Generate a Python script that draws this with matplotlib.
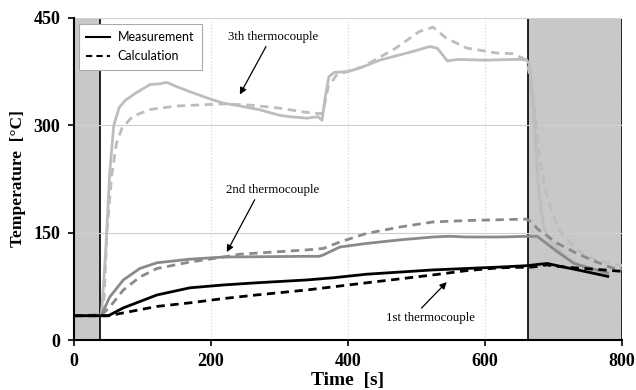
import matplotlib
matplotlib.use('Agg')
import matplotlib.pyplot as plt
import matplotlib.patches as mpatches
from matplotlib.lines import Line2D

# heating phases shaded in the plot (s)
shade_left = (0, 38)
shade_right = (662, 800)

# 3rd thermocouple
t3_meas = [0, 40, 46, 52, 58, 66, 75, 90, 111, 125, 135, 150, 169, 195, 218, 242, 270, 300, 315, 340,
           356, 362, 366, 372, 380, 400, 420, 446, 470, 494, 519, 530, 545, 560, 600, 640, 660,
           665, 670, 674, 677, 682, 687, 696, 706, 723, 752, 781]
T3_meas = [34, 35, 120, 233, 300, 325, 335, 345, 357, 358, 360, 354, 347, 338, 331, 327, 322, 314, 312, 310,
           312, 307, 335, 368, 374, 375, 381, 391, 397, 403, 410, 408, 390, 392, 391, 392, 392,
           385, 330, 270, 224, 180, 154, 137, 128, 112, 98, 90]
t3_calc = [0, 40, 44, 48, 55, 62, 70, 85, 110, 150, 220, 260, 300, 340, 362, 366, 371, 383, 398, 422,
           446, 470, 504, 524, 543, 573, 617, 640, 655, 662, 670, 680, 689, 699, 708, 730, 750, 774, 800]
T3_calc = [34, 35, 60, 150, 230, 275, 296, 312, 322, 327, 330, 328, 324, 318, 316, 330, 354, 370, 375, 382,
           395, 408, 431, 437, 422, 408, 401, 400, 394, 385, 345, 251, 205, 177, 154, 130, 116, 109, 104]

# 2nd thermocouple
t2_meas = [0, 40, 52, 72, 96, 121, 169, 218, 340, 358, 364, 388, 427, 476, 524, 548, 573, 620, 665,
           676, 687, 706, 730, 755, 779]
T2_meas = [34, 35, 60, 84, 100, 108, 113, 116, 117, 117, 119, 130, 135, 140, 144, 145, 144, 144, 145,
           145, 137, 123, 107, 100, 94]
t2_calc = [0, 40, 52, 72, 96, 121, 169, 218, 242, 340, 364, 388, 427, 476, 524, 573, 660, 668, 677,
           706, 730, 755, 785, 800]
T2_calc = [34, 35, 46, 70, 88, 100, 109, 116, 120, 126, 128, 137, 149, 158, 165, 167, 169, 165, 155,
           135, 123, 112, 101, 99]

# 1st thermocouple
t1_meas = [0, 50, 72, 121, 169, 218, 266, 340, 378, 427, 524, 621, 662, 680, 691, 705, 730, 755, 779]
T1_meas = [34, 34, 45, 63, 73, 77, 80, 84, 87, 92, 98, 102, 104, 106, 107, 104, 99, 94, 89]
t1_calc = [0, 50, 72, 121, 169, 218, 266, 340, 427, 524, 573, 621, 669, 690, 705, 730, 760, 800]
T1_calc = [34, 34, 38, 47, 52, 58, 63, 70, 80, 91, 97, 101, 102, 105, 103, 101, 99, 96]

plt.rcParams['font.family'] = ['Liberation Serif', 'DejaVu Serif']

fig = plt.figure(figsize=(6.36, 3.90), dpi=100)
ax = fig.add_axes([0.1164, 0.128, 0.8617, 0.826])

for x0, x1 in [shade_left, shade_right]:
    ax.add_patch(mpatches.Rectangle((x0, 0), x1 - x0, 450, facecolor='#c8c8c8',
                                    edgecolor='black', linewidth=1.2, zorder=0.2))

light = '#bdbdbd'
mid = '#8a8a8a'
dash = (3, 2)
ax.plot(t3_meas, T3_meas, color=light, lw=2, zorder=2)
ax.plot(t3_calc, T3_calc, color=light, lw=2, dashes=dash, zorder=2)
ax.plot(t2_meas, T2_meas, color=mid, lw=2, zorder=3)
ax.plot(t2_calc, T2_calc, color=mid, lw=2, dashes=dash, zorder=3)
ax.plot(t1_calc, T1_calc, color='black', lw=2, dashes=dash, zorder=4)
ax.plot(t1_meas, T1_meas, color='black', lw=2, zorder=4)

ax.set_xlim(0, 800)
ax.set_ylim(0, 450)
ax.set_xticks([0, 200, 400, 600, 800])
ax.set_yticks([0, 150, 300, 450])
ax.set_axisbelow(True)
ax.xaxis.grid(True, color='#d8d8d8', linestyle=':', linewidth=0.9)
ax.yaxis.grid(True, color='#d0d0d0', linestyle='-', linewidth=0.8)
for s in ['top', 'right']:
    ax.spines[s].set_visible(False)
for s in ['left', 'bottom']:
    ax.spines[s].set_linewidth(1.5)
ax.tick_params(direction='out', length=4, width=1.2, labelsize=13)
ax.tick_params(axis='x', pad=5)
ax.tick_params(axis='y', pad=6)
for lab in ax.get_xticklabels() + ax.get_yticklabels():
    lab.set_fontweight('bold')

ax.set_xlabel('Time  [s]', fontsize=14, fontweight='bold', labelpad=2)
ax.set_ylabel('Temperature  [\u00b0C]', fontsize=12.5, fontweight='bold', labelpad=5)

handles = [Line2D([], [], color='black', lw=1.5),
           Line2D([], [], color='black', lw=1.5, dashes=(3, 2))]
leg = ax.legend(handles, ['Measurement', 'Calculation'], loc='upper left',
                bbox_to_anchor=(0.009, 0.982), borderaxespad=0, fancybox=False,
                framealpha=1, edgecolor='#aaaaaa', handlelength=1.9, handletextpad=0.6,
                prop={'family': 'Lato', 'size': 9}, labelspacing=0.55, borderpad=0.6)
leg.get_frame().set_linewidth(0.8)
leg.set_zorder(6)

arrow = dict(arrowstyle='-|>', color='black', lw=0.9, mutation_scale=10, shrinkA=1, shrinkB=0)
ax.annotate('3th thermocouple', xy=(242, 343), xytext=(290, 424), fontsize=9.3,
            ha='center', va='center', arrowprops=dict(arrow, relpos=(0.45, 0)))
ax.annotate('2nd thermocouple', xy=(223, 123), xytext=(290, 210), fontsize=9.3,
            ha='center', va='center', arrowprops=dict(arrow, relpos=(0.33, 0)))
ax.annotate('1st thermocouple', xy=(544, 81), xytext=(520, 31), fontsize=9.3,
            ha='center', va='center', arrowprops=dict(arrow, relpos=(0.36, 1)))

fig.savefig('out.png', dpi=100)
